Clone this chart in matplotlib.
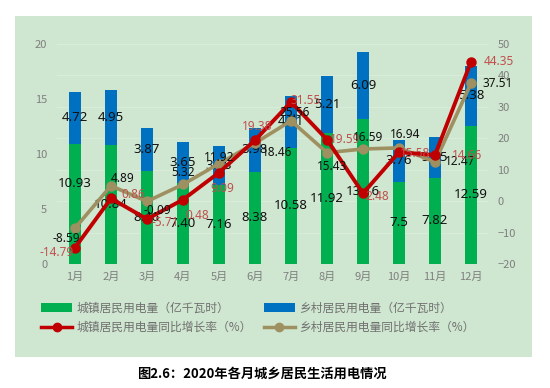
import matplotlib
matplotlib.use("Agg")
import matplotlib.pyplot as plt
from matplotlib.patches import Rectangle, Patch
from matplotlib.lines import Line2D

plt.rcParams['font.family'] = ['Noto Sans CJK SC', 'DejaVu Sans']

months = ['1月', '2月', '3月', '4月', '5月', '6月', '7月', '8月', '9月', '10月', '11月', '12月']
urban = [10.93, 10.84, 8.46, 7.40, 7.16, 8.38, 10.58, 11.92, 13.16, 7.5, 7.82, 12.59]
rural = [4.72, 4.95, 3.87, 3.65, 3.58, 3.98, 4.71, 5.21, 6.09, 3.76, 3.75, 5.38]
urban_growth = [-14.79, 0.86, -5.71, 0.48, 9.09, 19.38, 31.55, 19.59, 2.48, 15.58, 14.66, 44.35]
rural_growth = [-8.59, 4.89, -0.09, 5.32, 11.92, 18.46, 25.56, 15.43, 16.59, 16.94, 12.47, 37.51]
urban_labels = ['10.93', '10.84', '8.46', '7.40', '7.16', '8.38', '10.58', '11.92', '13.16', '7.5', '7.82', '12.59']
rural_labels = ['4.72', '4.95', '3.87', '3.65', '3.58', '3.98', '4.71', '5.21', '6.09', '3.76', '3.75', '5.38']

# label offsets in pixels (dx, dy up)
rg_off = [(-9, -10), (12, 7), (10, -9), (0, 12), (0, 6), (22, -9), (4, 8), (5, -14), (5, 12), (6, 13), (25, 0), (27, 0)]
ug_off = [(-18, -5), (22, 4), (18, -3), (14, -16), (3, -16), (2, 14), (15, 1), (18, 0), (14, -3), (16, -1), (32, 0), (28, 0)]
urban_lbl_dy = [20, 0, 0, 0, 0, 0, 0, 0, 0, 0, 0, 0]

GREEN = '#00B050'
BLUE = '#0070C0'
RED = '#C00000'
GOLD = '#9E9060'
REDTXT = '#C0504D'
GRAY = '#7F7F7F'
BG = '#CFE6D0'

fig = plt.figure(figsize=(5.5, 3.88), dpi=100)
fig.patches.append(Rectangle((15/550, 1-357/388), 517/550, 341/388, transform=fig.transFigure,
                             facecolor=BG, edgecolor='none', zorder=-10))

ax = fig.add_axes([57/550, 1-264/388, 432/550, 220/388])
ax.set_facecolor('none')
x = list(range(len(months)))
w = 0.34
ax.bar(x, urban, width=w, color=GREEN, zorder=2)
ax.bar(x, rural, width=w, bottom=urban, color=BLUE, zorder=2)
ax.set_xlim(-0.5, 11.5)
ax.set_ylim(0, 20)
ax.set_yticks([0, 5, 10, 15, 20])
ax.set_xticks(x)
ax.set_xticklabels(months)
ax.tick_params(axis='both', length=0, colors=GRAY, labelsize=8)
ax.tick_params(axis='y', pad=7)
ax.tick_params(axis='x', pad=6)
for s in ax.spines.values():
    s.set_visible(False)

for i in x:
    ax.annotate(urban_labels[i], (i, urban[i] / 2), xytext=(0, urban_lbl_dy[i]),
                textcoords='offset pixels', ha='center', va='center', fontsize=9.5,
                color='#111111', family=['Noto Sans', 'DejaVu Sans'], zorder=3)
    ax.text(i, urban[i] + rural[i] / 2, rural_labels[i], ha='center', va='center', fontsize=9.5,
            color='#111111', family=['Noto Sans', 'DejaVu Sans'], zorder=3)

ax2 = ax.twinx()
ax2.set_ylim(-20, 50)
ax2.set_yticks([-20, -10, 0, 10, 20, 30, 40, 50])
ax2.tick_params(axis='y', length=0, colors=GRAY, labelsize=8, pad=6)
for s in ax2.spines.values():
    s.set_visible(False)
for t in [-10, 0, 10, 20, 30, 40, 50]:
    ax.axhline((t + 20) / 70 * 20, color='#DCEEDC', lw=0.6, zorder=0)

ax2.plot(x, rural_growth, color=GOLD, lw=2.6, marker='o', ms=6.5, zorder=4)
ax2.plot(x, urban_growth, color=RED, lw=2.8, marker='o', ms=6.5, zorder=5)

for i in x:
    ax2.annotate(f'{rural_growth[i]:.2f}', (i, rural_growth[i]), xytext=rg_off[i],
                 textcoords='offset pixels', ha='center', va='center', fontsize=8.5,
                 color='#111111', family=['Noto Sans', 'DejaVu Sans'], zorder=6)
    ax2.annotate(f'{urban_growth[i]:.2f}', (i, urban_growth[i]), xytext=ug_off[i],
                 textcoords='offset pixels', ha='center', va='center', fontsize=8.5,
                 color=REDTXT, family=['Noto Sans', 'DejaVu Sans'], zorder=6)

handles = [Patch(facecolor=GREEN, edgecolor='none'),
           Line2D([], [], color=RED, lw=2.5, marker='o', ms=6),
           Patch(facecolor=BLUE, edgecolor='none'),
           Line2D([], [], color=GOLD, lw=2.5, marker='o', ms=6)]
labels = ['城镇居民用电量（亿千瓦时）', '城镇居民用电量同比增长率（%）',
          '乡村居民用电量（亿千瓦时）', '乡村居民用电量同比增长率（%）']
leg = fig.legend(handles, labels, ncol=2, loc='center', bbox_to_anchor=(258/550, 1-318/388),
                 frameon=False, fontsize=8.5, handlelength=2.6, handletextpad=0.4,
                 columnspacing=1.0, labelspacing=0.55, borderpad=0)
for t in leg.get_texts():
    t.set_color('#707070')

fig.text(262/550, 1-374/388, '图2.6：2020年各月城乡居民生活用电情况', ha='center', va='center',
         fontsize=9.5, fontweight='bold', color='#000000')

fig.savefig('out.png', dpi=100)
